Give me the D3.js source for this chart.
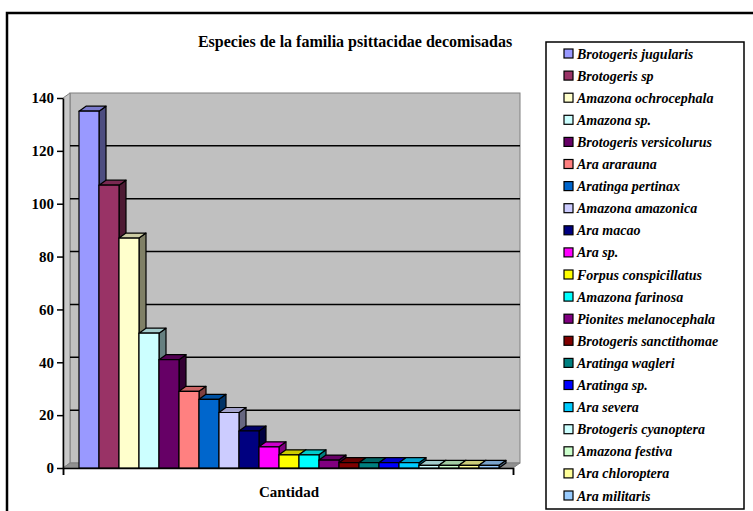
<!DOCTYPE html>
<html>
<head>
<meta charset="utf-8">
<script src="https://cdn.jsdelivr.net/npm/d3@7"></script>
<style>
  html, body { margin: 0; padding: 0; background: #ffffff; }
  svg { display: block; }
</style>
</head>
<body>
<svg id="chart" width="753" height="511"></svg>
<script>
// ---- data ----
const categories = [
  "Brotogeris jugularis", "Brotogeris sp", "Amazona ochrocephala", "Amazona sp.",
  "Brotogeris versicolurus", "Ara ararauna", "Aratinga pertinax", "Amazona amazonica",
  "Ara macao", "Ara sp.", "Forpus conspicillatus", "Amazona farinosa",
  "Pionites melanocephala", "Brotogeris sanctithomae", "Aratinga wagleri", "Aratinga sp.",
  "Ara severa", "Brotogeris cyanoptera", "Amazona festiva", "Ara chloroptera", "Ara militaris"
];
const values = [135, 107, 87, 51, 41, 29, 26, 21, 14, 8, 5, 5, 3, 2, 2, 2, 2, 1, 1, 1, 1];
const colors = [
  "#9999FF", "#993366", "#FFFFCC", "#CCFFFF", "#660066", "#FF8080", "#0066CC", "#CCCCFF",
  "#000080", "#FF00FF", "#FFFF00", "#00FFFF", "#800080", "#800000", "#008080", "#0000FF",
  "#00CCFF", "#CCFFFF", "#CCFFCC", "#FFFF99", "#99CCFF"
];
const yTicks = [0, 20, 40, 60, 80, 100, 120, 140];
const titleText = "Especies de la familia psittacidae decomisadas";
const xLabel = "Cantidad";

// ---- layout ----
const svg = d3.select("#chart");
const FONT = '"Liberation Serif", "Times New Roman", Tinos, serif';
const x0 = 63, x1 = 513, yBottom = 468, yTop = 98;
const dx = 7, dy = -5;

const y = d3.scaleLinear().domain([0, 140]).range([yBottom, yTop]);
const x = d3.scaleBand().domain(categories).range([79, 499]).padding(0);

function shade(c, k) {
  const r = d3.rgb(c);
  return d3.rgb(r.r * k, r.g * k, r.b * k).formatHex();
}
const pts = a => a.map(p => p.join(",")).join(" ");

// outer border
svg.append("rect")
  .attr("x", 7).attr("y", 13).attr("width", 760).attr("height", 520)
  .attr("fill", "#fff").attr("stroke", "#000").attr("stroke-width", 2.5);

// title
svg.append("text")
  .attr("x", 355).attr("y", 47)
  .attr("text-anchor", "middle")
  .style("font-family", FONT).style("font-weight", "bold").style("font-size", "16px")
  .text(titleText);

// back wall
svg.append("rect")
  .attr("x", x0 + dx).attr("y", y(140) + dy)
  .attr("width", x1 - x0).attr("height", y(0) - y(140))
  .attr("fill", "#C0C0C0").attr("stroke", "#808080").attr("stroke-width", 1);

// left side wall
svg.append("polygon")
  .attr("points", pts([[x0, y(140)], [x0 + dx, y(140) + dy], [x0 + dx, y(0) + dy], [x0, y(0)]]))
  .attr("fill", "#C8C8C8").attr("stroke", "#808080").attr("stroke-width", 1);

// floor
svg.append("polygon")
  .attr("points", pts([[x0, y(0)], [x0 + dx, y(0) + dy], [x1 + dx, y(0) + dy], [x1, y(0)]]))
  .attr("fill", "#909090").attr("stroke", "#808080").attr("stroke-width", 1);

// gridlines on back wall
svg.append("g").selectAll("line")
  .data(yTicks.filter(t => t > 0 && t < 140))
  .join("line")
  .attr("x1", x0 + dx).attr("x2", x1 + dx)
  .attr("y1", d => y(d) + dy).attr("y2", d => y(d) + dy)
  .attr("stroke", "#000").attr("stroke-width", 1.5);

// bars
const bars = svg.append("g");
categories.forEach((name, i) => {
  const v = values[i];
  const bx = x(name), bw = x.bandwidth();
  const top = y(v), base = y(0);
  const g = bars.append("g").attr("stroke", "#000").attr("stroke-width", 1.2).attr("stroke-linejoin", "round");
  g.append("polygon")
    .attr("points", pts([[bx + bw, top], [bx + bw + dx, top + dy], [bx + bw + dx, base + dy], [bx + bw, base]]))
    .attr("fill", shade(colors[i], 0.5));
  g.append("polygon")
    .attr("points", pts([[bx, top], [bx + dx, top + dy], [bx + bw + dx, top + dy], [bx + bw, top]]))
    .attr("fill", shade(colors[i], 0.8));
  g.append("rect")
    .attr("x", bx).attr("y", top).attr("width", bw).attr("height", base - top)
    .attr("fill", colors[i]);
});

// y axis
const yAxis = svg.append("g")
  .attr("transform", `translate(${x0},0)`)
  .call(d3.axisLeft(y).tickValues(yTicks).tickSize(6).tickPadding(3).tickSizeOuter(0));
yAxis.select(".domain").attr("stroke", "#000").attr("stroke-width", 1.5);
yAxis.selectAll(".tick line").attr("stroke", "#000").attr("stroke-width", 1.5);
yAxis.selectAll(".tick text")
  .style("font-family", FONT).style("font-weight", "bold").style("font-size", "15px").attr("fill", "#000");

// x axis (front baseline with end ticks)
const xAxisScale = d3.scaleLinear().domain([0, 1]).range([x0, x1]);
const xAxis = svg.append("g")
  .attr("transform", `translate(0,${yBottom})`)
  .call(d3.axisBottom(xAxisScale).tickValues([0, 1]).tickSize(7).tickFormat(""));
xAxis.select(".domain").attr("stroke", "#000").attr("stroke-width", 1.5);
xAxis.selectAll(".tick line").attr("stroke", "#000").attr("stroke-width", 1.5);

// x label
svg.append("text")
  .attr("x", 289).attr("y", 497)
  .attr("text-anchor", "middle")
  .style("font-family", FONT).style("font-weight", "bold").style("font-size", "15px")
  .text(xLabel);

// legend
const legX = 546, legY = 42, legW = 198, legH = 467;
svg.append("rect")
  .attr("x", legX).attr("y", legY).attr("width", legW).attr("height", legH)
  .attr("fill", "#fff").attr("stroke", "#000").attr("stroke-width", 1.5);
const ly = d3.scalePoint().domain(categories).range([54, 496]);
const leg = svg.append("g").selectAll("g").data(categories).join("g")
  .attr("transform", d => `translate(0,${ly(d)})`);
leg.append("rect")
  .attr("x", 564).attr("y", -5).attr("width", 9).attr("height", 9)
  .attr("fill", (d, i) => colors[i]).attr("stroke", "#000").attr("stroke-width", 1.2);
leg.append("text")
  .attr("x", 577).attr("y", 4.5)
  .style("font-family", FONT).style("font-weight", "bold").style("font-style", "italic").style("font-size", "14px")
  .text(d => d);
</script>
</body>
</html>
